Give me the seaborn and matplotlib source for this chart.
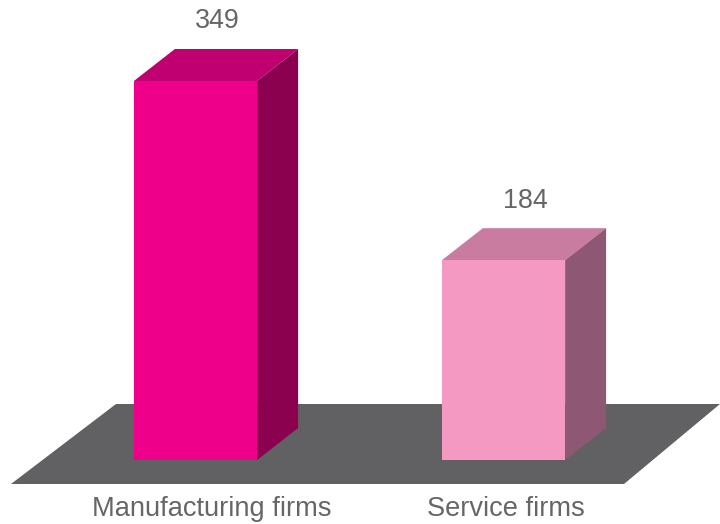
# 3D looking bar chart, firms by type
import matplotlib
matplotlib.use('Agg')
import matplotlib.pyplot as plt
from matplotlib.patches import Polygon
import pandas as pd
import seaborn as sns

# Data
categories = ['Manufacturing firms', 'Service firms']
values = [349, 184]
front_colors = ['#EE008B', '#F49AC2']
top_colors = ['#C00070', '#C97BA0']
side_colors = ['#8C0050', '#8E5875']

W, H = 720, 524
px_per_cat = 308
px_per_unit = 1.086
x0_px, y0_px = 195.5, 460
depth_x, depth_y = 41, 32
text_color = '#666668'

df = pd.DataFrame({'Firm': categories, 'Count': values})

sns.set_theme(style='white')
plt.rcParams['font.family'] = ['Liberation Sans', 'DejaVu Sans']

fig = plt.figure(figsize=(W / 100, H / 100), dpi=100)
ax = fig.add_axes([0, 0, 1, 1])

sns.barplot(data=df, x='Firm', y='Count', hue='Firm', palette=front_colors,
            width=0.4, legend=False, saturation=1, linewidth=0, ax=ax, zorder=3)

ax.set_xlim(-x0_px / px_per_cat, (W - x0_px) / px_per_cat)
ax.set_ylim(-(H - y0_px) / px_per_unit, y0_px / px_per_unit)
ax.axis('off')

# floor, in pixels from the top left
def px(x, y):
    return ((x - x0_px) / px_per_cat, (y0_px - y) / px_per_unit)

floor = [px(11, 484), px(116, 404), px(720, 404), px(624, 484)]
ax.add_patch(Polygon(floor, closed=True, fc='#616163', ec='none', zorder=1))

# top and side faces come from the bars themselves
dx = depth_x / px_per_cat
dy = depth_y / px_per_unit
for bar, top_c, side_c, val in zip(ax.patches[:2], top_colors, side_colors, values):
    l, r = bar.get_x(), bar.get_x() + bar.get_width()
    h = bar.get_height()
    ax.add_patch(Polygon([(l, h), (r, h), (r + dx, h + dy), (l + dx, h + dy)],
                         closed=True, fc=top_c, ec='none', zorder=2))
    ax.add_patch(Polygon([(r, 0), (r + dx, dy), (r + dx, h + dy), (r, h)],
                         closed=True, fc=side_c, ec='none', zorder=2))
    ax.text((l + r) / 2 + 21.5 / px_per_cat, h + dy + 27.5 / px_per_unit, str(val),
            ha='center', va='center', fontsize=19.4, color=text_color)

# category labels
label_x = [212, 505.5]
for name, lx in zip(categories, label_x):
    ax.text((lx - x0_px) / px_per_cat, (y0_px - 509) / px_per_unit, name,
            ha='center', va='center', fontsize=19.6, color=text_color)

fig.savefig('out.png', dpi=100, facecolor='white')
